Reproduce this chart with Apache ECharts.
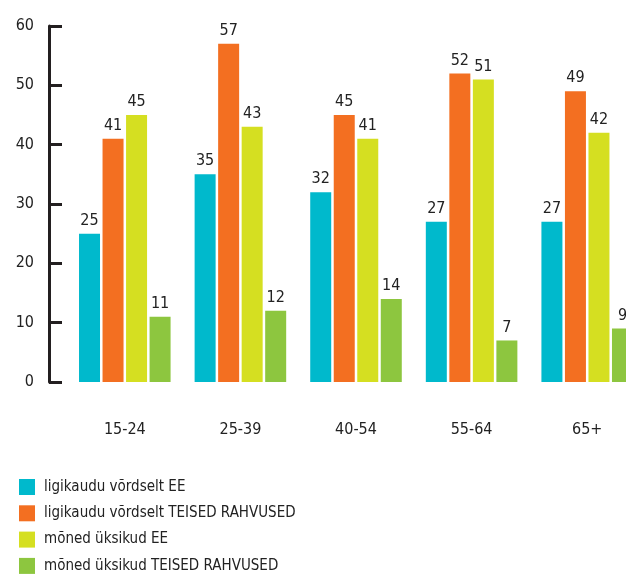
<!DOCTYPE html>
<html>
<head>
<meta charset="utf-8">
<script src="https://cdn.jsdelivr.net/npm/echarts@6/dist/echarts.min.js"></script>
<style>
  html, body { margin: 0; padding: 0; background: #fff; overflow: hidden; }
  #chart { width: 680px; height: 600px; }
</style>
</head>
<body>
<div id="chart"></div>
<script>
// Age groups on the x axis
const categories = ['15-24', '25-39', '40-54', '55-64', '65+'];

// Series names and values (%)
const seriesNames = [
  'ligikaudu võrdselt EE',
  'ligikaudu võrdselt TEISED RAHVUSED',
  'mõned üksikud EE',
  'mõned üksikud TEISED RAHVUSED'
];
const approxEE = [25, 35, 32, 27, 27];
const approxOther = [41, 57, 45, 52, 49];
const fewEE = [45, 43, 41, 51, 42];
const fewOther = [11, 12, 14, 7, 9];

const yTicks = { min: 0, max: 60, interval: 10 };

const colors = ['#00b9cc', '#f36f21', '#d5df21', '#8dc63f'];
const FONT = '"DejaVu Sans Condensed", "Liberation Sans Narrow", sans-serif';
const TEXT = '#222222';

const chart = echarts.init(document.getElementById('chart'), null, { renderer: 'canvas' });

const values = [approxEE, approxOther, fewEE, fewOther];

chart.setOption({
  animation: false,
  color: colors,
  textStyle: { fontFamily: FONT },
  grid: { left: 67, top: 26, width: 578, height: 356, containLabel: false },
  legend: {
    orient: 'vertical',
    left: 19,
    top: 479,
    height: 120,
    itemWidth: 16,
    itemHeight: 16,
    itemGap: 10.3,
    icon: 'rect',
    padding: 0,
    textStyle: { fontFamily: FONT, fontSize: 15, color: TEXT, padding: [0, 0, 0, 4] },
    data: seriesNames
  },
  xAxis: {
    type: 'category',
    data: categories,
    axisLine: { show: false },
    axisTick: { show: false },
    axisLabel: { fontFamily: FONT, fontSize: 16, color: TEXT, margin: 40 }
  },
  yAxis: {
    type: 'value',
    min: yTicks.min,
    max: yTicks.max,
    interval: yTicks.interval,
    offset: 18,
    splitLine: { show: false },
    axisLine: { show: true, lineStyle: { color: '#231f20', width: 3 } },
    axisTick: { show: true, inside: true, length: 13, lineStyle: { color: '#231f20', width: 3 } },
    axisLabel: { fontFamily: FONT, fontSize: 16, color: TEXT, margin: 15 }
  },
  series: seriesNames.map((name, i) => ({
    name,
    type: 'bar',
    data: values[i],
    barWidth: 21,
    barGap: '12%',
    label: {
      show: true,
      position: 'top',
      distance: 5,
      fontFamily: FONT,
      fontSize: 16,
      color: TEXT
    }
  }))
});
</script>
</body>
</html>
